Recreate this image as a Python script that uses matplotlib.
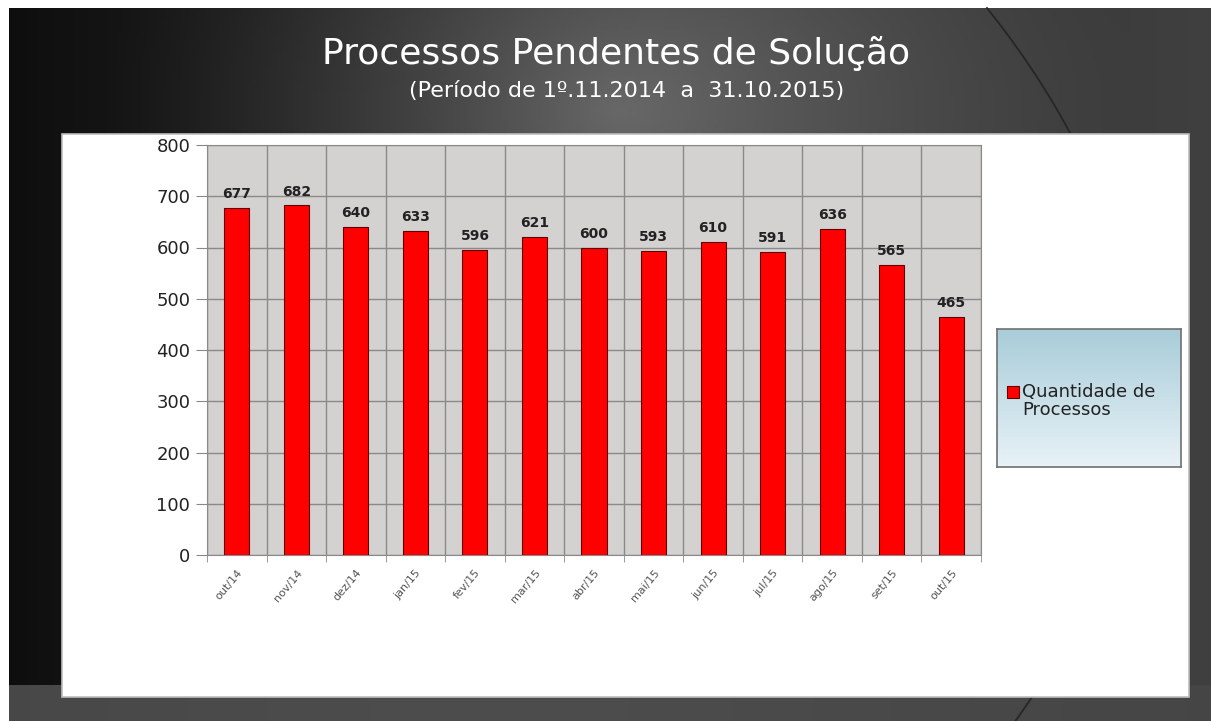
import numpy as np
import matplotlib
matplotlib.use("Agg")
import matplotlib.pyplot as plt
from matplotlib.patches import Rectangle
import matplotlib.transforms as mtransforms

# ---- data ----
months = ["out/14", "nov/14", "dez/14", "jan/15", "fev/15", "mar/15", "abr/15",
          "mai/15", "jun/15", "jul/15", "ago/15", "set/15", "out/15"]
values = [677, 682, 640, 633, 596, 621, 600, 593, 610, 591, 636, 565, 465]
yticks = [0, 100, 200, 300, 400, 500, 600, 700, 800]
title = "Processos Pendentes de Solução"
subtitle = "(Período de 1º.11.2014  a  31.10.2015)"
legend_label = "Quantidade de\nProcessos"

W, H = 1211, 721
fig = plt.figure(figsize=(W / 100, H / 100), dpi=100)
fig.patch.set_facecolor("white")
FAM = ["DejaVu Sans"]

def fx(px):
    return px / W

def fy(py):
    return 1 - py / H

# ---- dark slide background ----
bg = fig.add_axes([0, 0, 1, 1])
bg.set_axis_off()
nx, ny = 400, 240
xx, yy = np.meshgrid(np.linspace(0, W, nx), np.linspace(0, H, ny))
base = 0.05 + 0.20 * np.clip(xx / W, 0, 1) ** 0.8
d = np.sqrt(((xx - 620) / 520) ** 2 + ((yy - 110) / 420) ** 2)
highlight = 0.24 * np.clip(1 - d, 0, 1) ** 1.3
shade = np.clip(base + highlight, 0.03, 0.45)
shade = np.where(yy > 686, 0.27 + 0.03 * np.exp(-((xx - 500) / 500) ** 2), shade)
bg.imshow(np.dstack([shade] * 3), extent=[0, W, H, 0], aspect="auto")
bg.add_patch(Rectangle((0, 0), W, 8, facecolor="white", edgecolor="none"))
bg.add_patch(Rectangle((0, 0), 9, H, facecolor="white", edgecolor="none"))
# decorative arc on right
py_pts = np.array([8, 133, 697])
px_pts = np.array([987, 1070, 1032])
coef = np.polyfit(py_pts, px_pts, 2)
ys = np.linspace(8, 721, 100)
bg.plot(np.polyval(coef, ys), ys, color="#262626", lw=1.3)
bg.set_xlim(0, W)
bg.set_ylim(H, 0)

# ---- white panel ----
bg.add_patch(Rectangle((62, 134), 1189 - 62, 697 - 134, facecolor="white",
                       edgecolor="#bdbdbd", lw=1.2, zorder=5))

# ---- titles ----
fig.text(fx(616), fy(64), title, color="white", fontsize=26, ha="center",
         va="baseline", family=FAM, zorder=5)
fig.text(fx(627), fy(97), subtitle, color="white", fontsize=16, ha="center",
         va="baseline", family=FAM, zorder=5)

# ---- main chart ----
ax = fig.add_axes([fx(207), fy(555), fx(981) - fx(207), fy(145) - fy(555)], zorder=3)
ax.set_facecolor("#d4d2d0")
x = np.arange(len(months))
ax.bar(x, values, width=0.42, color="#ff0000", edgecolor="#600000", lw=0.8, zorder=3)
ax.set_xlim(-0.5, len(months) - 0.5)
ax.set_ylim(0, 800)
ax.set_yticks(yticks)
ax.set_yticklabels([str(v) for v in yticks], fontsize=13, color="#222222", family=FAM)
ax.set_xticks(x)
ax.set_xticklabels(months, rotation=50, ha="right", va="top", rotation_mode="anchor",
                   fontsize=8, color="#555555", family=FAM)
offset = mtransforms.ScaledTranslation(10 / 100, 0, fig.dpi_scale_trans)
for lab in ax.get_xticklabels():
    lab.set_transform(lab.get_transform() + offset)
ax.tick_params(axis="x", length=0, pad=9)
ax.set_xticks(np.arange(-0.5, len(months)), minor=True)
ax.tick_params(axis="x", which="minor", length=5, color="#888888")
ax.tick_params(axis="y", length=8, color="#888888", pad=4)
ax.grid(True, axis="y", color="#8a8a8a", lw=1.0, zorder=1)
ax.grid(True, axis="x", which="minor", color="#8a8a8a", lw=1.0, zorder=1)
for s in ax.spines.values():
    s.set_color("#8a8a8a")
for xi, v in zip(x, values):
    ax.annotate(str(v), (xi, v), xytext=(0, 5), textcoords="offset points",
                ha="center", va="bottom", fontsize=10, fontweight="bold",
                color="#222222", family=FAM, zorder=4)

# ---- legend box ----
lx0, lx1, ly0, ly1 = 997, 1181, 329, 467
lax = fig.add_axes([fx(lx0), fy(ly1), fx(lx1) - fx(lx0), fy(ly0) - fy(ly1)], zorder=4)
grad = np.linspace(0, 1, 100)[:, None]
c_top = np.array([0.66, 0.80, 0.85])
c_bot = np.array([0.91, 0.95, 0.97])
img = c_top[None, None, :] * (1 - grad[:, :, None]) + c_bot[None, None, :] * grad[:, :, None]
lax.imshow(img, extent=[0, 1, 0, 1], aspect="auto", origin="upper")
lax.set_xlim(0, 1)
lax.set_ylim(0, 1)
lax.set_xticks([])
lax.set_yticks([])
for s in lax.spines.values():
    s.set_color("#707070")
    s.set_linewidth(1.2)
fig.patches.append(Rectangle((fx(1007), fy(398)), fx(12), 12 / H, transform=fig.transFigure,
                             facecolor="#ff0000", edgecolor="#600000", lw=0.8, zorder=6))
fig.text(fx(1022), fy(383), legend_label, ha="left", va="top", fontsize=13,
         color="#222222", family=FAM, linespacing=1.0, zorder=6)

fig.savefig("out.png", dpi=100)
